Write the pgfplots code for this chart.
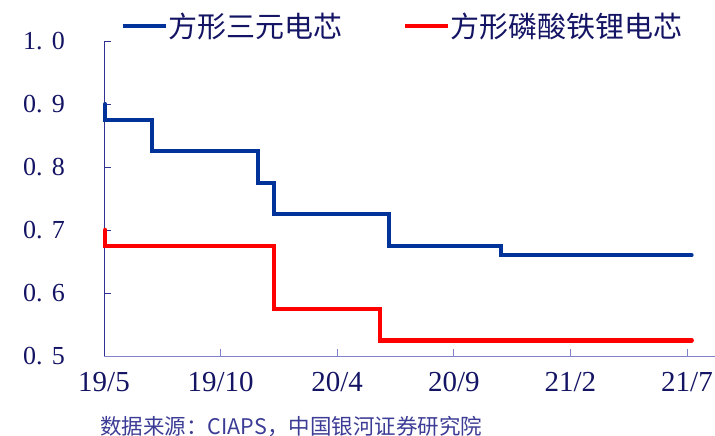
\documentclass[border=0pt]{standalone}
\usepackage{pgfplots}
\pgfplotsset{compat=1.18}
\usepackage{pgfplotstable}
\usepackage{fontspec}
\setmainfont{Liberation Serif}
\newfontfamily\cjk{Noto Sans CJK SC}
\definecolor{sblue}{RGB}{0,51,153}
\definecolor{sred}{RGB}{255,0,0}
\definecolor{navy}{RGB}{20,20,100}
\definecolor{yaxisc}{RGB}{50,50,150}
\definecolor{xaxisc}{RGB}{130,130,200}
\definecolor{srcc}{RGB}{60,60,150}

\pgfplotstableread{
x y
0.05 0.900
0.05 0.875
2.06 0.825
6.60 0.775
7.30 0.725
12.22 0.675
17.02 0.660
25.20 0.660
}\ternary

\pgfplotstableread{
x y
0.05 0.700
0.05 0.675
7.30 0.575
11.84 0.525
25.20 0.525
}\lfp

\begin{document}
\begin{tikzpicture}
\begin{axis}[
  at={(0,0)}, anchor=south west,
  scale only axis, width=611bp, height=315bp,
  xmin=0, xmax=26.2, ymin=0.5, ymax=1.0,
  clip=false,
  axis x line=bottom, axis y line=left,
  x axis line style={-, draw=xaxisc, line width=0.8pt},
  y axis line style={-, draw=yaxisc, line width=0.8pt},
  xtick={0,5,10,15,20,25},
  xticklabels={19/5,19/10,20/4,20/9,21/2,21/7},
  ytick={0.5,0.6,0.7,0.8,0.9,1.0},
  yticklabels={0.\kern.35em5,0.\kern.35em6,0.\kern.35em7,0.\kern.35em8,0.\kern.35em9,1.\kern.35em0},
  tick align=inside,
  major tick length=7bp,
  x tick style={draw=xaxisc, line width=0.8pt},
  y tick style={draw=yaxisc, line width=0.8pt},
  xticklabel style={font=\fontsize{29bp}{30bp}\selectfont, text=navy, inner sep=0pt, anchor=north, yshift=-16bp},
  yticklabel style={font=\fontsize{26bp}{27bp}\selectfont, text=navy, inner sep=0pt, anchor=east, xshift=-39bp},
  legend columns=2,
  legend style={at={(axis description cs:0.0229,1.048)}, anchor=west, draw=none, fill=none,
    font=\cjk\fontsize{29bp}{30bp}\selectfont, text=navy,
    nodes={inner sep=0pt},
    /tikz/every odd column/.append style={column sep=0bp},
    /tikz/every even column/.append style={column sep=60bp}},
  legend image code/.code={\draw[#1, line width=4.5bp, line cap=butt] (0bp,0bp) -- (43bp,0bp);},
]
\addplot[const plot, draw=sblue, line width=4bp, line cap=round, line join=miter] table[x=x,y=y] {\ternary};
\addlegendentry{方形三元电芯}
\addplot[const plot, draw=sred, line width=4.5bp, line cap=round, line join=miter] table[x=x,y=y] {\lfp};
\addlegendentry{方形磷酸铁锂电芯}
\node[anchor=west, inner sep=0pt, text=srcc, font=\cjk\fontsize{21.5bp}{22bp}\selectfont]
  at (axis description cs:-0.0065,-0.225) {数据来源：CIAPS，中国银河证券研究院};
\end{axis}
\pgfresetboundingbox
\path (-104bp,-80bp) rectangle (611bp,356bp);
\end{tikzpicture}
\end{document}
